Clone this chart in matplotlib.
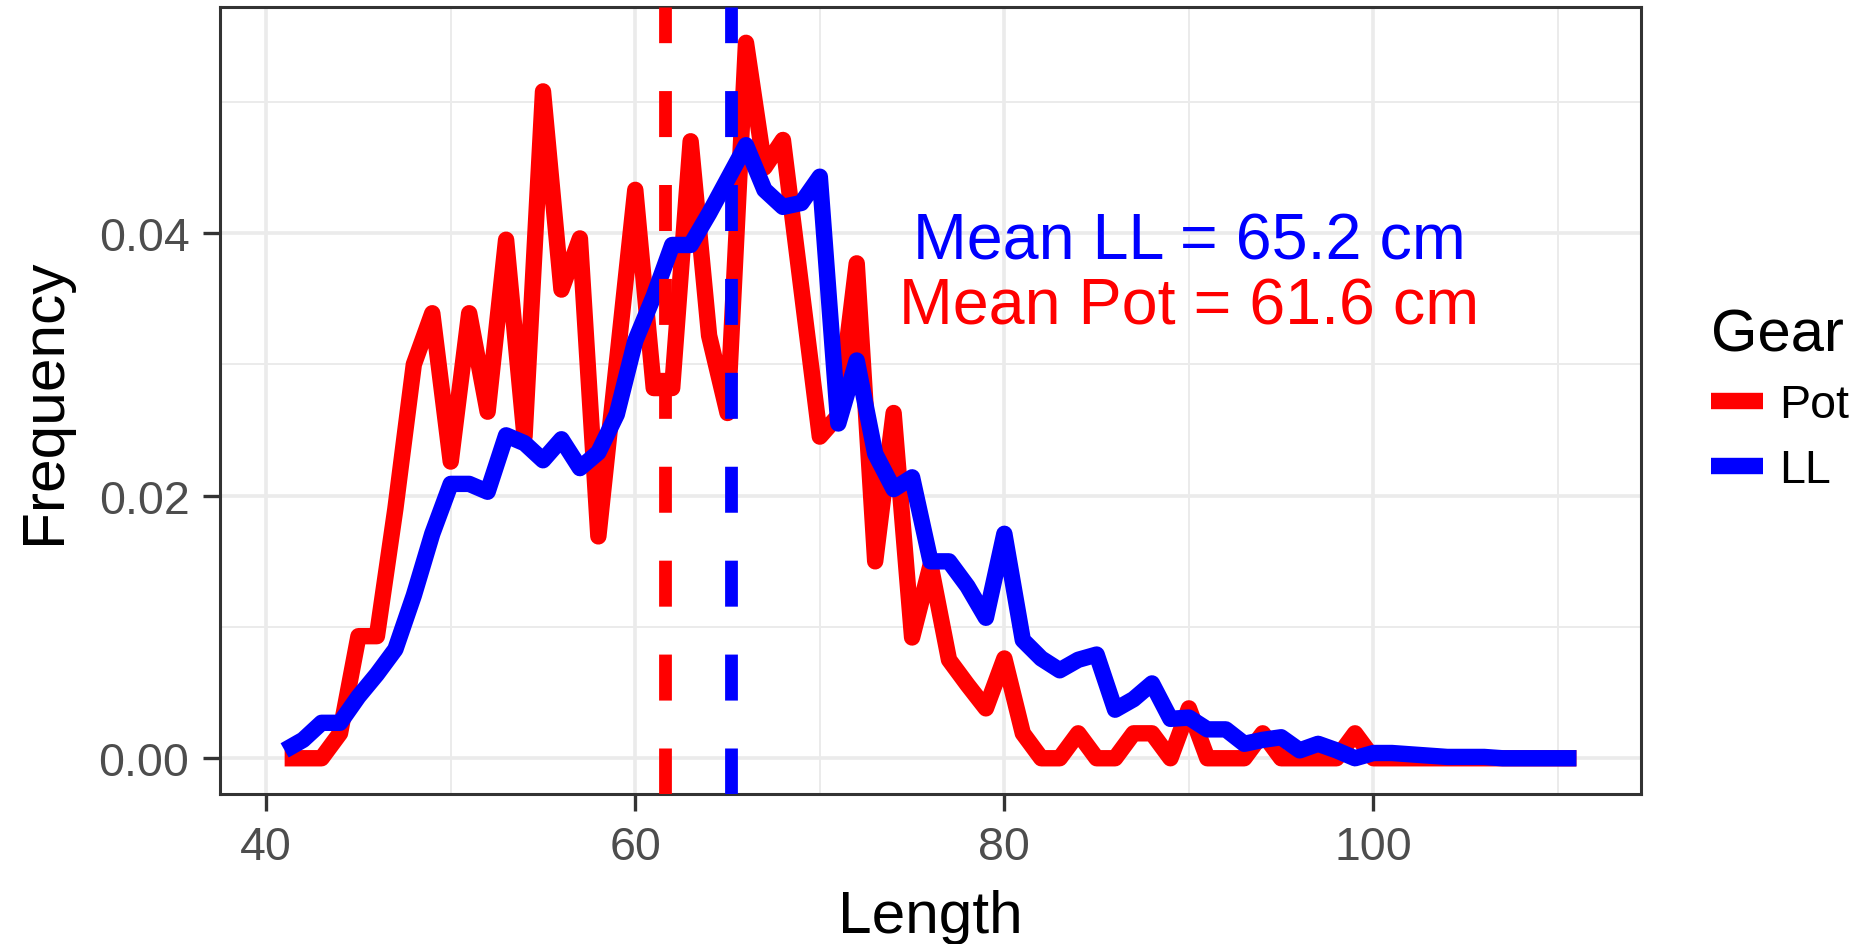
import matplotlib
matplotlib.use("Agg")
import matplotlib.pyplot as plt
from matplotlib.ticker import MultipleLocator, FormatStrFormatter

plt.rcParams["font.family"] = ["Liberation Sans", "DejaVu Sans"]

# length classes (cm)
length = list(range(41, 112))

# relative frequency per length, pot gear
pot = [0.0, 0.0, 0.0, 0.0019, 0.0093, 0.0093, 0.019, 0.0300, 0.0339, 0.0226,
       0.0339, 0.0264, 0.0395, 0.0245, 0.0508, 0.0357, 0.0396, 0.0169, 0.0301, 0.0433,
       0.0282, 0.0282, 0.0470, 0.0322, 0.0263, 0.0545, 0.0450, 0.0471, 0.0358, 0.0245,
       0.0261, 0.0377, 0.0150, 0.0263, 0.0092, 0.0147, 0.0075, 0.0056, 0.0038, 0.0076,
       0.0019, 0.0, 0.0, 0.0019, 0.0, 0.0, 0.0019, 0.0019, 0.0, 0.0038,
       0.0, 0.0, 0.0, 0.0019, 0.0, 0.0, 0.0, 0.0, 0.0019, 0.0,
       0.0, 0.0, 0.0, 0.0, 0.0, 0.0, 0.0, 0.0, 0.0, 0.0, 0.0]

# relative frequency per length, longline gear
ll = [0.0006, 0.0014, 0.0027, 0.0027, 0.0047, 0.0064, 0.0083, 0.0124, 0.0171, 0.0209,
      0.0209, 0.0203, 0.0246, 0.0240, 0.0227, 0.0243, 0.0221, 0.0233, 0.0262, 0.0318,
      0.0352, 0.0391, 0.0391, 0.0415, 0.0441, 0.0467, 0.0433, 0.0420, 0.0423, 0.0443,
      0.0255, 0.0303, 0.0232, 0.0205, 0.0214, 0.0150, 0.0150, 0.0131, 0.0107, 0.0171,
      0.0090, 0.0076, 0.0067, 0.0075, 0.0079, 0.0037, 0.0045, 0.0057, 0.0030, 0.0031,
      0.0022, 0.0022, 0.0011, 0.0014, 0.0016, 0.0006, 0.0011, 0.0006, 0.0, 0.0004,
      0.0004, 0.0003, 0.0002, 0.0001, 0.0001, 0.0001, 0.0, 0.0, 0.0, 0.0, 0.0]

mean_pot = 61.6
mean_ll = 65.2
gears = ["Pot", "LL"]
gear_colors = ["#FF0000", "#0000FF"]

# annotation text
label_x = 90
label_ll_y = 0.0381
label_pot_y = 0.0331

fig = plt.figure(figsize=(18.68, 9.45), dpi=100)
ax = fig.add_axes([0.1178, 0.1587, 0.7607, 0.8328])

ax.plot(length, pot, color=gear_colors[0], lw=11.8, label=gears[0],
        solid_joinstyle="round", solid_capstyle="butt", zorder=2)
ax.plot(length, ll, color=gear_colors[1], lw=11.8, label=gears[1],
        solid_joinstyle="round", solid_capstyle="butt", zorder=2.1)

ax.axvline(mean_pot, color=gear_colors[0], lw=9.2, ls=(0, (3.6, 3.75)),
           dash_capstyle="butt", zorder=3)
ax.axvline(mean_ll, color=gear_colors[1], lw=9.2, ls=(0, (3.6, 3.75)),
           dash_capstyle="butt", zorder=3)

ax.text(label_x, label_ll_y, f"Mean LL = {mean_ll} cm", color=gear_colors[1],
        fontsize=46.5, ha="center", va="baseline", zorder=4)
ax.text(label_x, label_pot_y, f"Mean Pot = {mean_pot} cm", color=gear_colors[0],
        fontsize=46.5, ha="center", va="baseline", zorder=4)

ax.set_xlim(37.5, 114.5)
ax.set_ylim(-0.002725, 0.057225)

ax.xaxis.set_major_locator(MultipleLocator(20))
ax.xaxis.set_minor_locator(MultipleLocator(10))
ax.yaxis.set_major_locator(MultipleLocator(0.02))
ax.yaxis.set_minor_locator(MultipleLocator(0.01))
ax.yaxis.set_major_formatter(FormatStrFormatter("%.2f"))

ax.grid(which="major", color="#EBEBEB", lw=2.6, zorder=0)
ax.grid(which="minor", color="#EBEBEB", lw=1.4, zorder=0)
ax.set_axisbelow(True)

ax.tick_params(which="major", length=12, width=2.4, color="#333333",
               labelsize=33.5, labelcolor="#4D4D4D", pad=10)
ax.tick_params(which="minor", length=0)
for sp in ax.spines.values():
    sp.set_color("#333333")
    sp.set_linewidth(2.2)

ax.set_xlabel("Length", fontsize=43.5, labelpad=15)
ax.set_ylabel("Frequency", fontsize=43.5, labelpad=19)

leg = ax.legend(loc="upper left", bbox_to_anchor=(0.9158, 0.674),
                bbox_transform=fig.transFigure, frameon=False,
                title="Gear", title_fontsize=43, fontsize=33.5,
                handlelength=1.12, handletextpad=0.36, labelspacing=0.45,
                borderpad=0, borderaxespad=0, alignment="left")
leg._legend_box.align = "left"

fig.savefig("out.png", dpi=100)
